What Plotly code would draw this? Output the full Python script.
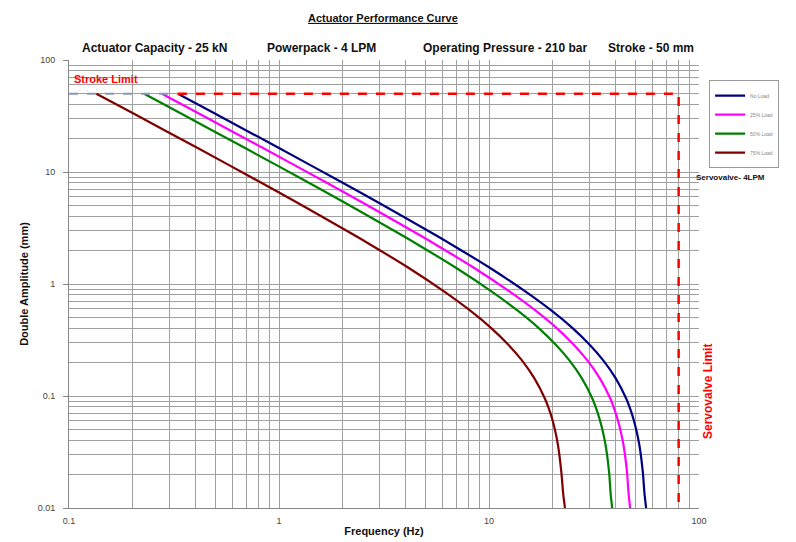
import plotly.graph_objects as go

# ---- data ----
blue_f = [0.33, 0.5, 1, 2, 3, 5, 7, 10, 15, 20, 25, 30, 35, 40, 45, 48, 50, 52, 54, 55, 56]
mag_f = [0.277, 0.42, 0.84, 1.68, 2.52, 4.2, 5.88, 8.4, 12.6, 16.8, 21, 25.2, 29.4, 33.6, 37.8, 40.3, 42, 43.7, 45.4, 46.2, 47.0]
green_f = [0.228, 0.345, 0.69, 1.38, 2.07, 3.45, 4.83, 6.9, 10.35, 13.8, 17.25, 20.7, 24.15, 27.6, 31.05, 33.1, 34.5, 35.9, 37.3, 37.95, 38.6]
brown_f = [0.135, 0.205, 0.41, 0.82, 1.23, 2.05, 2.87, 4.1, 6.15, 8.2, 10.25, 12.3, 14.35, 16.4, 18.45, 19.7, 20.5, 21.3, 22.1, 22.55, 23.0]
amp = [50, 32.9, 16.35, 8.05, 5.28, 3.07, 2.12, 1.41, 0.85, 0.572, 0.404, 0.29, 0.208, 0.145, 0.095, 0.0685, 0.052, 0.0365, 0.021, 0.0135, 0.01]

series_names = ["No Load", "25% Load", "50% Load", "75% Load"]
series_colors = ["#000080", "#FF00FF", "#008000", "#800000"]

stroke_limit_x = [0.33, 80, 80]
stroke_limit_y = [50, 50, 0.01]
stroke_left_x = [0.1, 0.33]
stroke_left_y = [50, 50]

x_ticks = [0.1, 1, 10, 100]
y_ticks = [0.01, 0.1, 1, 10, 100]

FONT = "Liberation Sans, Arial, sans-serif"

def grid_vals(lo_exp, hi_exp):
    vals = []
    for e in range(lo_exp, hi_exp):
        for m in range(1, 10):
            vals.append(round(m * 10 ** e, 6))
    vals.append(round(10 ** hi_exp, 6))
    return vals

fig = go.Figure()

for fx, nm, col in zip([blue_f, mag_f, green_f, brown_f], series_names, series_colors):
    fig.add_trace(go.Scatter(x=fx, y=amp, mode="lines", name=nm,
                             line=dict(color=col, width=2.2, shape="spline", smoothing=0.8)))

fig.add_trace(go.Scatter(x=stroke_left_x, y=stroke_left_y, mode="lines", showlegend=False,
                         line=dict(color="#8899bb", width=2, dash="dash")))
fig.add_trace(go.Scatter(x=stroke_limit_x, y=stroke_limit_y, mode="lines", showlegend=False,
                         line=dict(color="#FF0000", width=2.5, dash="dash")))

xv = grid_vals(-1, 2)
yv = grid_vals(-2, 2)

# plot area in page pixels: x 69..699, y 60..508 (page is offset by 8px body margin)
fig.update_layout(
    width=796, height=542,
    margin=dict(l=61, r=105, t=52, b=42),
    paper_bgcolor="white", plot_bgcolor="white",
    font=dict(family=FONT, size=10, color="#222"),
    title=dict(text="<b><u>Actuator Performance Curve</u></b>", x=0.471, xanchor="center",
               y=0.9815, yanchor="middle", font=dict(size=11, color="#111")),
    showlegend=True,
    legend=dict(x=1.016, y=0.955, xanchor="left", yanchor="top",
                bgcolor="white", bordercolor="#999", borderwidth=1,
                font=dict(size=5, color="#888"), tracegroupgap=0, itemwidth=30),
    xaxis=dict(type="log", range=[-1, 2], tickvals=x_ticks, ticktext=["%g" % v for v in x_ticks],
               showgrid=True, gridcolor="#a0a0a0", gridwidth=1,
               minor=dict(tickvals=xv, showgrid=True, gridcolor="#a0a0a0", gridwidth=1, ticks=""),
               showline=True, linecolor="#888", ticks="", zeroline=False,
               ticklabelstandoff=4,
               tickfont=dict(size=9, color="#444"), automargin=False,
               title=dict(text="<b>Frequency (Hz)</b>", standoff=2, font=dict(size=11, color="#111"))),
    yaxis=dict(type="log", range=[-2, 2], tickvals=y_ticks, ticktext=["%g" % v for v in y_ticks],
               showgrid=True, gridcolor="#a0a0a0", gridwidth=1,
               minor=dict(tickvals=yv, showgrid=True, gridcolor="#a0a0a0", gridwidth=1, ticks=""),
               showline=True, linecolor="#888", ticks="outside", ticklen=5, tickcolor="#888",
               zeroline=False, ticklabelstandoff=6,
               tickfont=dict(size=9, color="#444"), automargin=False,
               title=dict(text="<b>Double Amplitude (mm)</b>", standoff=6, font=dict(size=11, color="#111"))),
)

top_notes = [("Actuator Capacity - 25 kN", 154), ("Powerpack - 4 LPM", 321),
             ("Operating Pressure - 210 bar", 505), ("Stroke - 50 mm", 651)]
for txt, px in top_notes:
    fig.add_annotation(text="<b>%s</b>" % txt, xref="paper", yref="paper",
                       x=(px - 69) / 630, y=(508 - 48) / 448, showarrow=False,
                       xanchor="center", yanchor="middle", font=dict(size=12, color="#111"))

fig.add_annotation(text="<b>Stroke Limit</b>", xref="paper", yref="paper",
                   x=(72 - 69) / 630, y=(508 - 79) / 448, showarrow=False,
                   xanchor="left", yanchor="middle", font=dict(size=11, color="#FF0000"))
fig.add_annotation(text="<b>Servovalve- 4LPM</b>", xref="paper", yref="paper",
                   x=(694 - 69) / 630, y=(508 - 178) / 448, showarrow=False,
                   xanchor="left", yanchor="middle", font=dict(size=8, color="#111"))
fig.add_annotation(text="<b>Servovalve Limit</b>", xref="paper", yref="paper",
                   x=(708 - 69) / 630, y=(508 - 392) / 448, showarrow=False, textangle=-90,
                   xanchor="center", yanchor="middle", font=dict(size=12, color="#FF0000"))

fig.write_html("out.html")
